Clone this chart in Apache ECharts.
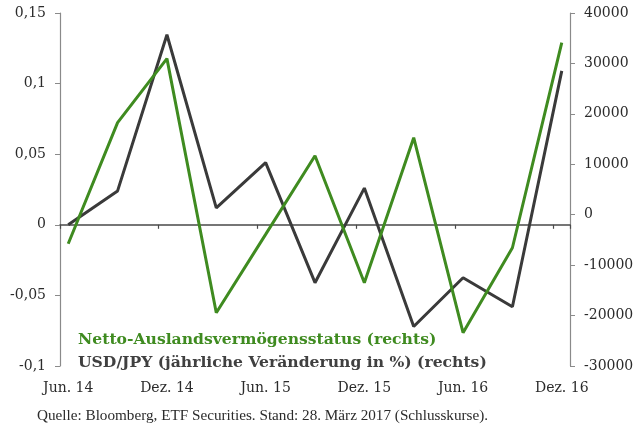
<!DOCTYPE html>
<html>
<head>
<meta charset="utf-8">
<script src="https://cdn.jsdelivr.net/npm/echarts@6/dist/echarts.min.js"></script>
<style>
html,body{margin:0;padding:0;background:#fff;}
#chart{width:643px;height:428px;}
</style>
</head>
<body>
<div id="chart"></div>
<script>
// Quarterly observations (Jun. 14 ... Dez. 16)
const quarters = ['Jun. 14','Sep. 14','Dez. 14','Mär. 15','Jun. 15','Sep. 15','Dez. 15','Mär. 16','Jun. 16','Sep. 16','Dez. 16'];
// Netto-Auslandsvermögensstatus (right axis)
const nettoStatus = [-5750, 18250, 30950, -19450, -3900, 11700, -13500, 15280, -23400, -6550, 34130];
// USD/JPY annual change (left axis)
const usdJpy = [0.000, 0.024, 0.1346, 0.012, 0.044, -0.041, 0.026, -0.072, -0.0375, -0.058, 0.109];
// Axis tick labels
const tickLabels = ['Jun. 14','Dez. 14','Jun. 15','Dez. 15','Jun. 16','Dez. 16'];
const leftTicks = { min: -0.1, max: 0.15, interval: 0.05 };
const rightTicks = { min: -30000, max: 40000, interval: 10000 };
const sourceText = 'Quelle: Bloomberg, ETF Securities. Stand: 28. März 2017 (Schlusskurse).';
const nameNetto = 'Netto-Auslandsvermögensstatus (rechts)';
const nameUsd = 'USD/JPY (jährliche Veränderung in %) (rechts)';

// monthly date axis (Excel-like): Jun 2014 .. Dez 2016
const monthNames = ['Jan.','Feb.','Mär.','Apr.','Mai','Jun.','Jul.','Aug.','Sep.','Okt.','Nov.','Dez.'];
const months = [];
for (let i = 0; i < 31; i++) {
  const m = (5 + i) % 12;
  const y = 14 + Math.floor((5 + i) / 12);
  months.push(monthNames[m] + ' ' + y);
}
function toMonthly(values) {
  const out = months.map(() => null);
  quarters.forEach((q, i) => { out[months.indexOf(q)] = values[i]; });
  return out;
}

const FONT = '"DejaVu Serif", "Liberation Serif", serif';
const FONT2 = '"Liberation Serif", "DejaVu Serif", serif';
const GREEN = '#3f8b20';
const DARK = '#3a3a3a';
const TXT = '#2b2b2b';

const chart = echarts.init(document.getElementById('chart'));
chart.setOption({
  animation: false,
  backgroundColor: '#fff',
  title: {
    text: sourceText, left: 37, top: 409, padding: 0,
    textStyle: { fontFamily: FONT2, fontSize: 15.2, fontWeight: 'normal', color: TXT }
  },
  legend: {
    orient: 'vertical', left: 73, top: 331, itemWidth: 0, itemHeight: 0, itemGap: 5,
    selectedMode: false, padding: 0,
    textStyle: { fontFamily: FONT, fontSize: 15.6, fontWeight: 'bold', lineHeight: 18 },
    data: [
      { name: nameNetto, icon: 'none', textStyle: { color: GREEN } },
      { name: nameUsd, icon: 'none', textStyle: { color: '#404040' } }
    ]
  },
  grid: { left: 60, right: 73, top: 13, bottom: 62, containLabel: false },
  xAxis: [
    {
      type: 'category', data: months, boundaryGap: true, position: 'bottom',
      axisLine: { show: false, onZero: false }, axisTick: { show: false },
      axisLabel: {
        interval: (i, v) => tickLabels.indexOf(v) >= 0,
        margin: 15, fontFamily: FONT, fontSize: 14, color: TXT
      },
      splitLine: { show: false }
    },
    {
      type: 'category', data: months, boundaryGap: true, position: 'bottom',
      axisLine: { show: true, onZero: true, onZeroAxisIndex: 0, lineStyle: { color: '#4a4a4a', width: 1.5 } },
      axisTick: { show: true, interval: (i, v) => tickLabels.indexOf(v) >= 0, length: 4, lineStyle: { color: '#4a4a4a', width: 1.2 } },
      axisLabel: { show: false },
      splitLine: { show: false }
    }
  ],
  yAxis: [
    {
      type: 'value', position: 'left', min: leftTicks.min, max: leftTicks.max, interval: leftTicks.interval,
      axisLine: { show: true, lineStyle: { color: '#8a8a8a', width: 1.2 } },
      axisTick: { show: true, length: 5, lineStyle: { color: '#8a8a8a' } },
      splitLine: { show: false },
      axisLabel: {
        margin: 14, fontFamily: FONT, fontSize: 14, color: TXT,
        formatter: v => String(+v.toFixed(2)).replace('.', ',')
      }
    },
    {
      type: 'value', position: 'right', min: rightTicks.min, max: rightTicks.max, interval: rightTicks.interval,
      axisLine: { show: true, lineStyle: { color: '#8a8a8a', width: 1.2 } },
      axisTick: { show: true, length: 5, lineStyle: { color: '#8a8a8a' } },
      splitLine: { show: false },
      axisLabel: { margin: 14, fontFamily: FONT, fontSize: 14, color: TXT, formatter: v => String(v) }
    }
  ],
  series: [
    {
      name: nameNetto, type: 'line', xAxisIndex: 0, yAxisIndex: 1,
      data: toMonthly(nettoStatus), connectNulls: true, showSymbol: false, symbol: 'none',
      lineStyle: { color: GREEN, width: 3 }, itemStyle: { color: GREEN }, z: 3
    },
    {
      name: nameUsd, type: 'line', xAxisIndex: 0, yAxisIndex: 0,
      data: toMonthly(usdJpy), connectNulls: true, showSymbol: false, symbol: 'none',
      lineStyle: { color: DARK, width: 3 }, itemStyle: { color: DARK }, z: 2
    }
  ]
});
</script>
</body>
</html>
